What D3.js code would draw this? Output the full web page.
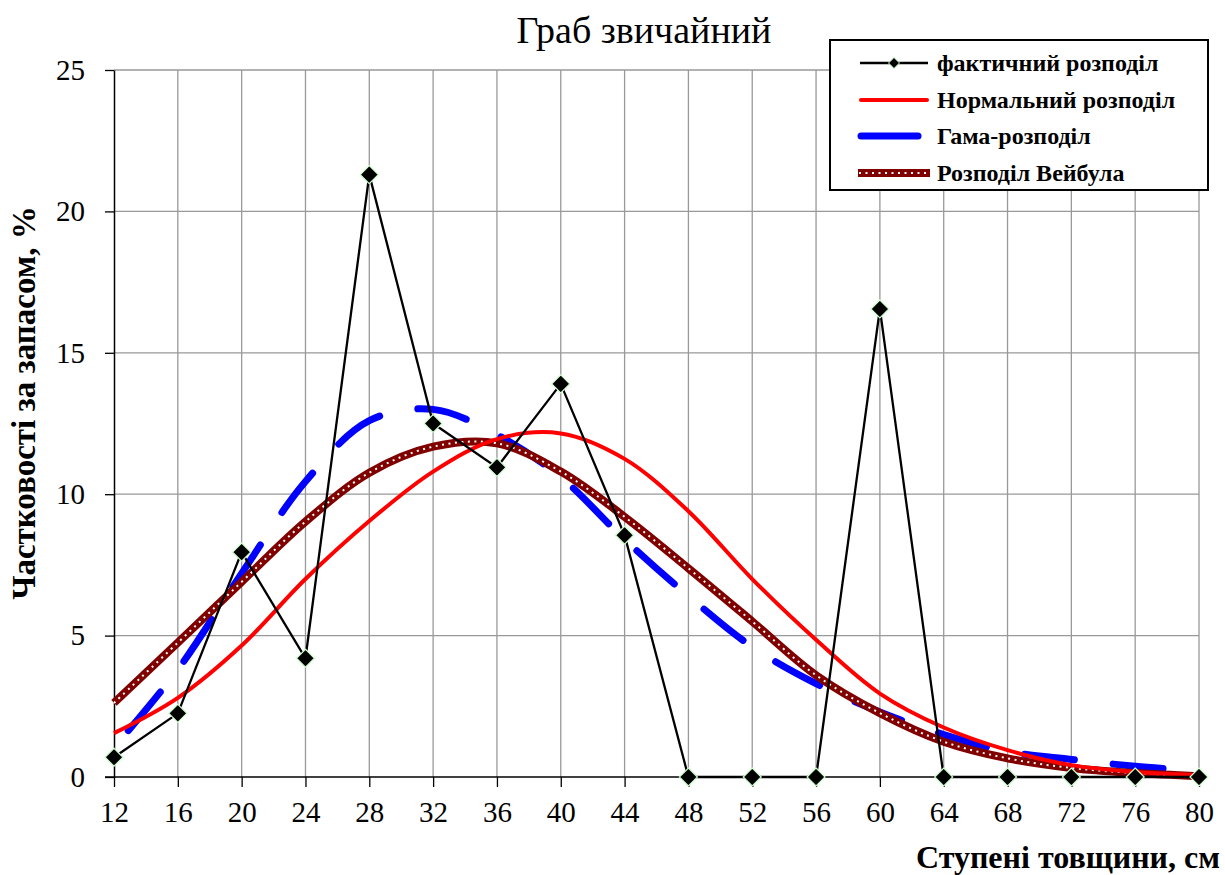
<!DOCTYPE html>
<html>
<head>
<meta charset="utf-8">
<script src="https://cdn.jsdelivr.net/npm/d3@7"></script>
<style>
  body { margin: 0; background: #fff; }
  svg { display: block; font-family: "Liberation Serif", "Times New Roman", serif; }
</style>
</head>
<body>
<svg width="1225" height="875"></svg>
<script>
// thickness steps, cm
const steps = [12, 16, 20, 24, 28, 32, 36, 40, 44, 48, 52, 56, 60, 64, 68, 72, 76, 80];
// frequencies, %
const actual  = [0.7, 2.25, 7.95, 4.2, 21.3, 12.5, 10.95, 13.9, 8.55, 0, 0, 0, 16.55, 0, 0, 0, 0, 0];
const normal  = [1.55, 2.8, 4.65, 7.0, 9.05, 10.8, 11.95, 12.15, 11.25, 9.4, 7.0, 4.85, 2.95, 1.75, 0.95, 0.42, 0.18, 0.07];
const gamma   = [1.05, 3.8, 7.2, 10.45, 12.6, 13.0, 12.1, 10.6, 8.4, 6.4, 4.6, 3.3, 2.3, 1.5, 0.9, 0.62, 0.38, 0.22];
const weibull = [2.62, 4.75, 6.9, 9.03, 10.76, 11.68, 11.8, 10.8, 9.2, 7.38, 5.5, 3.6, 2.26, 1.25, 0.66, 0.32, 0.14, 0.03];
const yTicks = [0, 5, 10, 15, 20, 25];
const names = ["фактичний розподіл", "Нормальний розподіл", "Гама-розподіл", "Розподіл Вейбула"];

const width = 1225, height = 875;
const margin = { top: 70, right: 26, bottom: 98, left: 114 };

const svg = d3.select("svg");

const x = d3.scaleLinear().domain([12, 80]).range([margin.left, width - margin.right]);
const y = d3.scaleLinear().domain([0, 25]).range([height - margin.bottom, margin.top]);

// grid
svg.append("g")
  .selectAll("line")
  .data(steps.slice(1))
  .join("line")
  .attr("x1", d => x(d)).attr("x2", d => x(d))
  .attr("y1", y(0)).attr("y2", y(25))
  .attr("stroke", "#999").attr("stroke-width", 1.3);

svg.append("g")
  .selectAll("line")
  .data(yTicks.slice(1))
  .join("line")
  .attr("x1", x(12)).attr("x2", x(80))
  .attr("y1", d => y(d)).attr("y2", d => y(d))
  .attr("stroke", "#999").attr("stroke-width", 1.3);

// axes
const xAxis = svg.append("g")
  .attr("transform", `translate(0,${y(0)})`)
  .call(d3.axisBottom(x).tickValues(steps).tickSize(10).tickPadding(14).tickSizeOuter(0));
xAxis.select(".domain").attr("stroke", "#000").attr("stroke-width", 1.5)
  .attr("d", `M${x(12) - 9},0H${x(80)}`);
xAxis.selectAll(".tick line").attr("stroke", "#000").attr("stroke-width", 1.3);
xAxis.selectAll("text").attr("font-size", 29).attr("font-family", "Liberation Serif").attr("fill", "#000");

const yAxis = svg.append("g")
  .attr("transform", `translate(${x(12)},0)`)
  .call(d3.axisLeft(y).tickValues(yTicks).tickSize(9).tickPadding(20).tickSizeOuter(0));
yAxis.select(".domain").attr("stroke", "#000").attr("stroke-width", 1.5);
yAxis.selectAll(".tick line").attr("stroke", "#000").attr("stroke-width", 1.3);
yAxis.selectAll("text").attr("font-size", 29).attr("font-family", "Liberation Serif").attr("fill", "#000");

// curves
const smooth = d3.line().x((d, i) => x(steps[i])).y(d => y(d)).curve(d3.curveCatmullRom.alpha(0.5));
const straight = d3.line().x((d, i) => x(steps[i])).y(d => y(d));

svg.append("path").datum(gamma)
  .attr("d", smooth).attr("fill", "none")
  .attr("stroke", "#0000ff").attr("stroke-width", 7)
  .attr("stroke-linecap", "round")
  .attr("stroke-dasharray", "50,39").attr("stroke-dashoffset", 67);

svg.append("path").datum(weibull)
  .attr("d", smooth).attr("fill", "none")
  .attr("stroke", "#800000").attr("stroke-width", 8);
svg.append("path").datum(weibull)
  .attr("d", smooth).attr("fill", "none")
  .attr("stroke", "#fff").attr("stroke-width", 2)
  .attr("stroke-dasharray", "2,4.5");

svg.append("path").datum(normal)
  .attr("d", smooth).attr("fill", "none")
  .attr("stroke", "#ff0000").attr("stroke-width", 4);

svg.append("path").datum(actual)
  .attr("d", straight).attr("fill", "none")
  .attr("stroke", "#000").attr("stroke-width", 2.3);

const diamond = r => `M0,${-r}L${r},0L0,${r}L${-r},0Z`;
svg.append("g")
  .selectAll("path")
  .data(actual)
  .join("path")
  .attr("transform", (d, i) => `translate(${x(steps[i])},${y(d)})`)
  .attr("d", diamond(9))
  .attr("fill", "#000").attr("stroke", "#ccffcc").attr("stroke-width", 1.2);

// title
svg.append("text")
  .attr("x", 644).attr("y", 43)
  .attr("text-anchor", "middle")
  .attr("font-size", 38)
  .text("Граб звичайний");

// axis titles
svg.append("text")
  .attr("x", 1220).attr("y", 868)
  .attr("text-anchor", "end")
  .attr("font-size", 32).attr("font-weight", "bold")
  .text("Ступені товщини, см");

svg.append("text")
  .attr("transform", "translate(35,403) rotate(-90)")
  .attr("text-anchor", "middle")
  .attr("font-size", 33).attr("font-weight", "bold")
  .text("Частковості за запасом, %");

// legend
const legend = svg.append("g");
legend.append("rect")
  .attr("x", 830).attr("y", 40).attr("width", 378).attr("height", 150)
  .attr("fill", "#fff").attr("stroke", "#000").attr("stroke-width", 2);

const rowY = [63, 100, 136, 173];
legend.selectAll("text")
  .data(names)
  .join("text")
  .attr("x", 937).attr("y", (d, i) => rowY[i]).attr("dy", "0.35em")
  .attr("font-size", 24).attr("font-weight", "bold")
  .text(d => d);

// sample lines
const sample = legend.append("g");
sample.append("line").attr("x1", 860).attr("x2", 928).attr("y1", rowY[0]).attr("y2", rowY[0])
  .attr("stroke", "#000").attr("stroke-width", 2.3);
sample.append("path").attr("transform", `translate(894,${rowY[0]})`).attr("d", diamond(5.5))
  .attr("fill", "#000").attr("stroke", "#ccffcc").attr("stroke-width", 1);
sample.append("line").attr("x1", 861).attr("x2", 927).attr("y1", rowY[1]).attr("y2", rowY[1])
  .attr("stroke", "#ff0000").attr("stroke-width", 4).attr("stroke-linecap", "round");
sample.append("line").attr("x1", 861).attr("x2", 918).attr("y1", rowY[2]).attr("y2", rowY[2])
  .attr("stroke", "#0000ff").attr("stroke-width", 7).attr("stroke-linecap", "round");
sample.append("line").attr("x1", 858).attr("x2", 930).attr("y1", rowY[3]).attr("y2", rowY[3])
  .attr("stroke", "#800000").attr("stroke-width", 8);
sample.append("line").attr("x1", 859).attr("x2", 930).attr("y1", rowY[3]).attr("y2", rowY[3])
  .attr("stroke", "#fff").attr("stroke-width", 2).attr("stroke-dasharray", "2,4.5");
</script>
</body>
</html>
